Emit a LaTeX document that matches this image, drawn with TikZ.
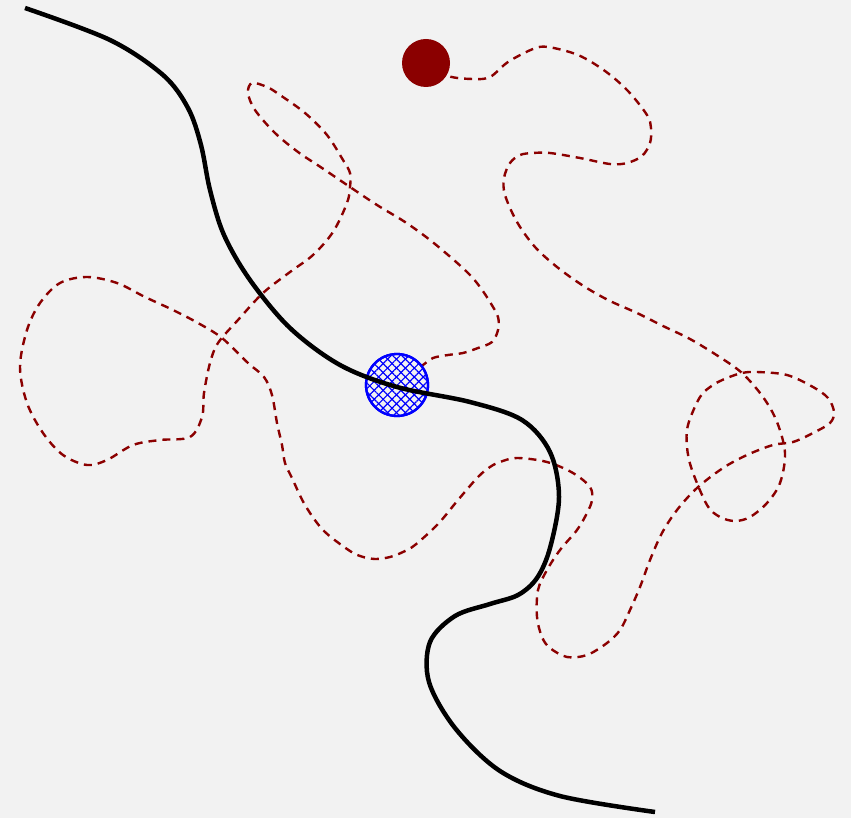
\documentclass[tikz,border=0pt]{standalone}
\usetikzlibrary{patterns.meta}
\definecolor{bg}{HTML}{F2F2F2}
\definecolor{dred}{HTML}{8B0000}
\tikzset{
  pathline/.style={draw=dred, line width=2.4pt, dash pattern=on 8pt off 6pt},
  mainline/.style={draw=black, line width=4.5pt},
  startdot/.style={circle, fill=dred, inner sep=0pt, minimum size=48pt},
  goalring/.style={circle, draw=blue, line width=2.3pt, inner sep=0pt, minimum size=62pt, fill=bg},
}
\begin{document}
\begin{tikzpicture}[x=1pt,y=-1pt]
\fill[bg] (0,0) rectangle (851,818);
\useasboundingbox (0,0) rectangle (851,818);
% dashed wandering path
\draw[pathline] plot[smooth, tension=0.55] coordinates {
(426,63) (448,76) (473,79) (490,77) (508,62) (533,49) (548,47) (578,55) (605,71) (628,91) (647,115) (651,128) (650,143) (642,156) (627,163) (610,164) (580,158) (550,153) (533,153) (520,155) (510,163) (504,178) (505,195) (517,222) (535,247) (557,267) (582,285) (608,300) (637,313) (663,326) (690,339) (718,356) (742,373) (763,397) (777,422) (785,453) (780,483) (767,503) (750,517) (735,521) (720,517) (707,505) (692,470) (687,447) (688,425) (700,397) (713,385) (727,378) (742,373) (757,372) (787,375) (813,387) (828,398) (834,412) (830,423) (813,433) (793,442) (773,445) (747,455) (723,468) (697,488) (677,510) (662,533) (650,560) (640,587) (630,610) (620,630) (607,643) (587,655) (567,657) (550,648) (542,637) (537,617) (538,590) (547,570) (560,550) (577,530) (587,513) (592,500) (590,487) (573,473) (547,462) (517,458) (500,462) (490,467) (478,477) (458,500) (438,524) (415,545) (403,552) (390,557) (375,559) (360,556) (347,549) (323,530) (305,505) (292,478) (285,463) (282,445) (277,423) (272,395) (264,377) (248,363) (222,338) (198,323) (173,310) (145,297) (117,283) (87,277) (60,283) (40,303) (27,330) (20,367) (27,403) (43,433) (63,455) (87,465) (107,460) (133,445) (160,440) (190,437) (202,417) (204,393) (210,363) (218,343) (238,320) (263,293) (290,272) (313,255) (333,232) (347,203) (350,187) (350,173) (343,160) (327,135) (305,113) (280,95) (267,87) (252,83) (248,93) (255,110) (275,133) (298,152) (322,168) (350,187) (377,205) (405,222) (430,240) (455,261) (470,275) (480,287) (490,302) (498,317) (498,330) (492,342) (478,348) (463,353) (448,355) (433,358) (423,365) (397,385)
};
% goal circle with crosshatch
\node[goalring] (goal) at (397,385) {};
\fill[pattern={Lines[angle=45,distance=6.3pt,line width=1.2pt]}, pattern color=blue] (goal.center) circle[radius=30pt];
\fill[pattern={Lines[angle=-45,distance=6.3pt,line width=1.2pt]}, pattern color=blue] (goal.center) circle[radius=30pt];
\draw[blue, line width=2.3pt] (goal.center) circle[radius=31pt];
% start dot
\node[startdot] (start) at (426,63) {};
% main black curve
\draw[mainline] plot[smooth, tension=0.55] coordinates {
(25,8) (110,40) (163,75) (188,108) (201,145) (210,190) (224,235) (250,280) (290,328) (340,365) (397,387) (470,402) (522,420) (550,452) (559,497) (550,548) (537,578) (518,595) (490,604) (455,616) (430,642) (429,682) (455,728) (500,771) (560,796) (655,812)
};
\end{tikzpicture}
\end{document}
